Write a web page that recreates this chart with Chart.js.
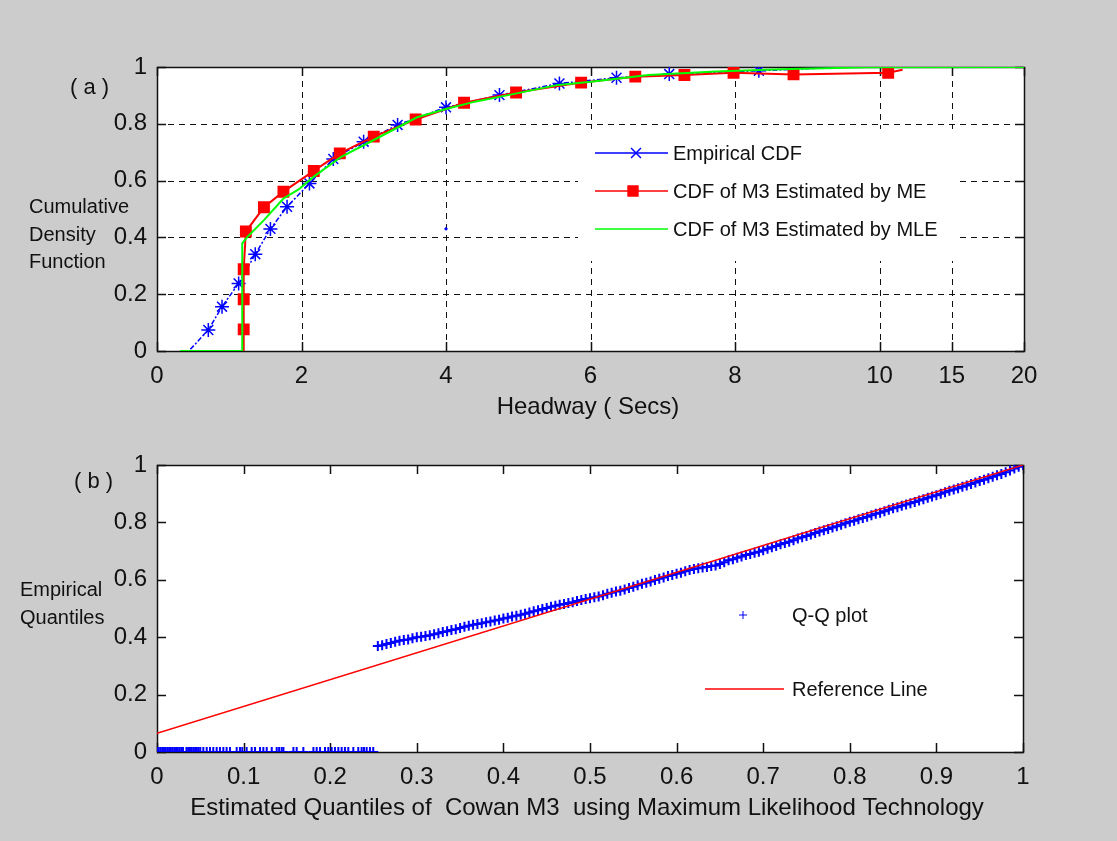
<!DOCTYPE html>
<html>
<head>
<meta charset="utf-8">
<script src="https://cdn.jsdelivr.net/npm/chart.js@4.4.0/dist/chart.umd.min.js"></script>
<style>
  html, body { margin: 0; padding: 0; background: #cccccc; }
  #wrap { position: relative; width: 1117px; height: 841px; overflow: hidden; }
  canvas { position: absolute; left: 0; }
  #cdf { top: 0; }
  #qq { top: 420px; }
</style>
</head>
<body>
<div id="wrap">
  <canvas id="cdf" width="1117" height="420"></canvas>
  <canvas id="qq" width="1117" height="421"></canvas>
</div>
<script>
// ---- (a) CDF data, headway in seconds ----
const headwayTicks = [0, 2, 4, 6, 8, 10, 15, 20];

const empX = [0.32, 0.44, 0.71, 0.90, 1.13, 1.36, 1.57, 1.80, 2.11, 2.44, 2.86, 3.33, 4.00, 4.74, 5.57, 6.36, 7.09, 8.33, 9.6];
const empY = [0, 0, 0.074, 0.156, 0.238, 0.341, 0.430, 0.508, 0.590, 0.676, 0.737, 0.796, 0.858, 0.901, 0.942, 0.962, 0.975, 0.987, 1.0];

const meX = [1.20, 1.20, 1.20, 1.20, 1.23, 1.48, 1.75, 2.17, 2.53, 3.00, 3.58, 4.25, 4.97, 5.87, 6.62, 7.30, 7.98, 8.81, 10.6, 11.6];
const meY = [0, 0.076, 0.182, 0.288, 0.421, 0.506, 0.561, 0.634, 0.696, 0.755, 0.815, 0.874, 0.910, 0.945, 0.966, 0.972, 0.980, 0.974, 0.980, 0.99];

const mleX = [0.32, 1.18, 1.18, 1.245, 1.48, 1.75, 1.96, 2.17, 2.55, 3.0, 3.6, 4.0, 4.4, 4.86, 5.55, 6.01, 6.80, 7.73, 8.65, 9.83, 20];
const mleY = [0, 0, 0.379, 0.400, 0.461, 0.537, 0.569, 0.614, 0.684, 0.743, 0.823, 0.852, 0.878, 0.901, 0.937, 0.948, 0.972, 0.984, 0.992, 0.999, 1.0];

const strayX = [4.0];
const strayY = [0.43];

// ---- (b) Q-Q data ----
const qqZeroX = [0, 0.002, 0.004, 0.006, 0.008, 0.010, 0.012, 0.014, 0.016, 0.018, 0.020,
  0.022, 0.024, 0.026, 0.028, 0.030, 0.034, 0.036, 0.038, 0.040, 0.042, 0.044, 0.046, 0.048,
  0.050, 0.0535, 0.0574, 0.0612, 0.065, 0.0689, 0.0727, 0.0766, 0.0804, 0.0843, 0.092,
  0.0958, 0.0985, 0.1035, 0.1093, 0.1132, 0.119, 0.1228, 0.1267, 0.1325, 0.1382, 0.141,
  0.144, 0.146, 0.1575, 0.1613, 0.169, 0.1806, 0.1844, 0.1883, 0.194, 0.1978, 0.2017,
  0.2055, 0.2094, 0.2132, 0.217, 0.2209, 0.2267, 0.2324, 0.2363, 0.239, 0.2421, 0.2459, 0.2497];

const qqX = [0.255, 0.26, 0.265, 0.27, 0.275, 0.28, 0.285, 0.29, 0.295, 0.30, 0.305, 0.31, 0.315,
  0.32, 0.325, 0.33, 0.335, 0.34, 0.345, 0.35, 0.355, 0.36, 0.365, 0.37, 0.375, 0.38, 0.385,
  0.39, 0.395, 0.40, 0.405, 0.41, 0.415, 0.42, 0.425, 0.43, 0.435, 0.44, 0.445, 0.45, 0.455,
  0.46, 0.465, 0.47, 0.475, 0.48, 0.485, 0.49, 0.495, 0.50, 0.505, 0.51, 0.515, 0.52, 0.525,
  0.53, 0.535, 0.54, 0.545, 0.55, 0.555, 0.56, 0.565, 0.57, 0.575, 0.58, 0.585, 0.59, 0.595,
  0.60, 0.605, 0.61, 0.615, 0.62, 0.625, 0.63, 0.635, 0.64, 0.645, 0.65, 0.655, 0.66, 0.665,
  0.67, 0.675, 0.68, 0.685, 0.69, 0.695, 0.70, 0.705, 0.71, 0.715, 0.72, 0.725, 0.73, 0.735,
  0.74, 0.745, 0.75, 0.755, 0.76, 0.765, 0.77, 0.775, 0.78, 0.785, 0.79, 0.795, 0.80, 0.805,
  0.81, 0.815, 0.82, 0.825, 0.83, 0.835, 0.84, 0.845, 0.85, 0.855, 0.86, 0.865, 0.87, 0.875,
  0.88, 0.885, 0.89, 0.895, 0.90, 0.905, 0.91, 0.915, 0.92, 0.925, 0.93, 0.935, 0.94, 0.945,
  0.95, 0.955, 0.96, 0.965, 0.97, 0.975, 0.98, 0.985, 0.99, 0.995, 1.00];
const qqY = [0.369, 0.372, 0.376, 0.380, 0.384, 0.388, 0.390, 0.392, 0.396, 0.400, 0.402, 0.404, 0.407,
  0.410, 0.414, 0.418, 0.421, 0.425, 0.428, 0.432, 0.436, 0.440, 0.443, 0.446, 0.449, 0.452, 0.455,
  0.458, 0.461, 0.465, 0.468, 0.472, 0.475, 0.478, 0.482, 0.486, 0.490, 0.494, 0.498, 0.502, 0.506,
  0.510, 0.513, 0.516, 0.519, 0.522, 0.526, 0.530, 0.533, 0.536, 0.539, 0.542, 0.546, 0.551, 0.555,
  0.559, 0.562, 0.566, 0.571, 0.576, 0.581, 0.586, 0.590, 0.594, 0.599, 0.604, 0.608, 0.613, 0.617,
  0.621, 0.625, 0.630, 0.634, 0.638, 0.640, 0.643, 0.645, 0.648, 0.650, 0.655, 0.661, 0.668, 0.672,
  0.677, 0.681, 0.686, 0.690, 0.694, 0.698, 0.703, 0.708, 0.713, 0.718, 0.724, 0.728, 0.733, 0.738,
  0.744, 0.748, 0.753, 0.758, 0.763, 0.768, 0.773, 0.777, 0.782, 0.787, 0.792, 0.797, 0.802, 0.806,
  0.811, 0.815, 0.820, 0.825, 0.830, 0.834, 0.839, 0.844, 0.849, 0.853, 0.858, 0.862, 0.867, 0.871,
  0.876, 0.881, 0.886, 0.890, 0.895, 0.900, 0.905, 0.910, 0.915, 0.919, 0.924, 0.929, 0.934, 0.939,
  0.944, 0.949, 0.954, 0.959, 0.964, 0.969, 0.975, 0.981, 0.988, 0.994, 1.000];

const refX = [0, 1];
const refY = [0.065, 1.0];

// axis 0..10 linear, then 10->15 and 15->20 each take one unit
function toAxis(v) {
  return v <= 10 ? v : 10 + (v - 10) / 5;
}
function pts(xs, ys, fx) {
  return xs.map((x, i) => ({ x: fx ? fx(x) : x, y: ys[i] }));
}
function fmt(v) {
  return String(Number(v.toFixed(1)));
}

const FONT = '"Liberation Sans", Arial, sans-serif';
const BLUE = '#0000ff', RED = '#ff0000', GREEN = '#00ff00';

const frame = {
  id: 'frame',
  beforeDatasetsDraw(chart, args, opt) {
    const { ctx, chartArea: a, scales: { x, y } } = chart;
    ctx.save();
    ctx.fillStyle = '#fff';
    ctx.fillRect(a.left, a.top, a.right - a.left, a.bottom - a.top);
    ctx.strokeStyle = '#111';
    if (opt.grid) {
      ctx.lineWidth = 1;
      ctx.setLineDash([6, 5]);
      x.ticks.forEach(t => {
        const px = Math.round(x.getPixelForValue(t.value)) + 0.5;
        if (px > a.left + 2 && px < a.right - 2) {
          ctx.beginPath(); ctx.moveTo(px, a.bottom); ctx.lineTo(px, a.top); ctx.stroke();
        }
      });
      y.ticks.forEach(t => {
        const py = Math.round(y.getPixelForValue(t.value)) + 0.5;
        if (py > a.top + 2 && py < a.bottom - 2) {
          ctx.beginPath(); ctx.moveTo(a.left, py); ctx.lineTo(a.right, py); ctx.stroke();
        }
      });
      ctx.setLineDash([]);
    }
    const tl = 9;
    ctx.lineWidth = 1.5;
    x.ticks.forEach(t => {
      const px = Math.round(x.getPixelForValue(t.value)) + 0.5;
      ctx.beginPath();
      ctx.moveTo(px, a.bottom); ctx.lineTo(px, a.bottom - tl);
      ctx.moveTo(px, a.top); ctx.lineTo(px, a.top + tl);
      ctx.stroke();
    });
    y.ticks.forEach(t => {
      const py = Math.round(y.getPixelForValue(t.value)) + 0.5;
      ctx.beginPath();
      ctx.moveTo(a.left, py); ctx.lineTo(a.left + tl, py);
      ctx.moveTo(a.right, py); ctx.lineTo(a.right - tl, py);
      ctx.stroke();
    });
    ctx.strokeRect(Math.round(a.left) + 0.5, Math.round(a.top) + 0.5,
      Math.round(a.right - a.left), Math.round(a.bottom - a.top));
    ctx.restore();
  },
  afterDatasetsDraw(chart, args, opt) {
    const lg = opt.legend;
    if (!lg) return;
    const ctx = chart.ctx;
    ctx.save();
    ctx.fillStyle = '#fff';
    ctx.fillRect(lg.box[0], lg.box[1], lg.box[2], lg.box[3]);
    lg.items.forEach(it => {
      ctx.strokeStyle = it.color;
      ctx.fillStyle = it.color;
      if (it.line) {
        ctx.lineWidth = 1.5;
        ctx.beginPath(); ctx.moveTo(it.x0, it.y); ctx.lineTo(it.x1, it.y); ctx.stroke();
      }
      if (it.marker) {
        Chart.helpers.drawPoint(ctx, { pointStyle: it.marker, radius: it.r, rotation: 0, borderWidth: it.bw || 1.5 }, it.mx, it.y);
      }
      ctx.fillStyle = '#111';
      ctx.font = '20px ' + FONT;
      ctx.textAlign = 'left';
      ctx.textBaseline = 'middle';
      ctx.fillText(it.label, it.tx, it.y + 1);
    });
    ctx.restore();
  },
  afterDraw(chart, args, opt) {
    const ctx = chart.ctx;
    ctx.save();
    ctx.fillStyle = '#111';
    ctx.textBaseline = 'middle';
    (opt.texts || []).forEach(t => {
      ctx.font = t.size + 'px ' + FONT;
      ctx.textAlign = t.align;
      ctx.fillText(t.text, t.x, t.y);
    });
    ctx.restore();
  }
};

function axisY(width) {
  return {
    min: 0, max: 1,
    afterFit(s) { s.width = width; },
    grid: { display: false, drawTicks: false },
    border: { display: false },
    ticks: { stepSize: 0.2, padding: 10, color: '#111', font: { family: FONT, size: 24 }, callback: fmt }
  };
}

const common = {
  responsive: false,
  animation: false,
  devicePixelRatio: 1,
  events: [],
  plugins: { legend: { display: false }, tooltip: { enabled: false } }
};

// ---- (a) ----
new Chart(document.getElementById('cdf'), {
  type: 'scatter',
  data: {
    datasets: [
      {
        label: 'CDF of M3 Estimated by MLE', data: pts(mleX, mleY, toAxis), order: 0,
        showLine: true, borderColor: GREEN, borderWidth: 2, pointRadius: 0
      },
      {
        label: 'CDF of M3 Estimated by ME', data: pts(meX, meY, toAxis), order: 1,
        showLine: true, borderColor: RED, backgroundColor: RED, borderWidth: 2,
        pointStyle: 'rect', pointRadius: c => (c.dataIndex === 0 || c.dataIndex === meX.length - 1) ? 0 : 7
      },
      {
        label: 'Empirical CDF', data: pts(empX, empY, toAxis), order: 2,
        showLine: true, borderColor: BLUE, borderWidth: 1.5, borderDash: [5, 2, 2, 2],
        pointStyle: 'star', pointBorderWidth: 1.5,
        pointRadius: c => (c.dataIndex < 2 || c.dataIndex === empX.length - 1) ? 0 : 7
      },
      {
        label: 'stray', data: pts(strayX, strayY, toAxis), order: 3,
        pointStyle: 'circle', pointRadius: 1.2, backgroundColor: BLUE, borderColor: BLUE
      }
    ]
  },
  options: {
    ...common,
    layout: { padding: { left: 0, top: 67, right: 93, bottom: 9 } },
    scales: {
      x: {
        type: 'linear', min: 0, max: toAxis(20),
        afterBuildTicks(s) { s.ticks = headwayTicks.map(v => ({ value: toAxis(v) })); },
        afterFit(s) { s.height = 60; },
        grid: { display: false, drawTicks: false },
        border: { display: false },
        ticks: { padding: 11, color: '#111', font: { family: FONT, size: 24 },
          callback: (v, i) => String(headwayTicks[i]) }
      },
      y: axisY(157)
    },
    plugins: {
      ...common.plugins,
      frame: {
        grid: true,
        legend: {
          box: [578, 129, 382, 132],
          items: [
            { label: 'Empirical CDF', color: BLUE, line: true, x0: 595, x1: 668, marker: 'crossRot', r: 7, mx: 636, y: 153, tx: 673 },
            { label: 'CDF of M3 Estimated by ME', color: RED, line: true, x0: 595, x1: 668, marker: 'rect', r: 7, mx: 633, y: 191, tx: 673 },
            { label: 'CDF of M3 Estimated by MLE', color: GREEN, line: true, x0: 595, x1: 668, marker: null, y: 229, tx: 673 }
          ]
        },
        texts: [
          { text: '( a )', x: 70, y: 88, size: 22, align: 'left' },
          { text: 'Headway ( Secs)', x: 588, y: 407, size: 24, align: 'center' },
          { text: 'Cumulative', x: 29, y: 207, size: 20, align: 'left' },
          { text: 'Density', x: 29, y: 235, size: 20, align: 'left' },
          { text: 'Function', x: 29, y: 262, size: 20, align: 'left' }
        ]
      }
    }
  },
  plugins: [frame]
});

// ---- (b) ----
new Chart(document.getElementById('qq'), {
  type: 'scatter',
  data: {
    datasets: [
      {
        label: 'Reference Line', data: pts(refX, refY), order: 0,
        showLine: true, borderColor: RED, borderWidth: 1.5, pointRadius: 0
      },
      {
        label: 'Q-Q plot', data: pts(qqX, qqY), order: 1,
        pointStyle: 'cross', pointRadius: 5, pointBorderWidth: 2, borderColor: BLUE
      },
      {
        label: 'Q-Q plot zero', data: qqZeroX.map(x => ({ x: x, y: 0 })), order: 2,
        pointStyle: 'cross', pointRadius: 5, pointBorderWidth: 2, borderColor: BLUE
      }
    ]
  },
  options: {
    ...common,
    layout: { padding: { left: 0, top: 45, right: 94, bottom: 29 } },
    scales: {
      x: {
        type: 'linear', min: 0, max: 1,
        afterFit(s) { s.height = 60; },
        grid: { display: false, drawTicks: false },
        border: { display: false },
        ticks: { stepSize: 0.1, padding: 11, color: '#111', font: { family: FONT, size: 24 }, callback: fmt }
      },
      y: axisY(157)
    },
    plugins: {
      ...common.plugins,
      frame: {
        grid: false,
        legend: {
          box: [700, 172, 275, 125],
          items: [
            { label: 'Q-Q plot', color: BLUE, line: false, marker: 'cross', r: 4, bw: 2, mx: 743, y: 195, tx: 792 },
            { label: 'Reference Line', color: RED, line: true, x0: 705, x1: 784, marker: null, y: 269, tx: 792 }
          ]
        },
        texts: [
          { text: '( b )', x: 74, y: 62, size: 22, align: 'left' },
          { text: 'Estimated Quantiles of  Cowan M3  using Maximum Likelihood Technology', x: 587, y: 388, size: 24, align: 'center' },
          { text: 'Empirical', x: 20, y: 170, size: 20, align: 'left' },
          { text: 'Quantiles', x: 20, y: 198, size: 20, align: 'left' }
        ]
      }
    }
  },
  plugins: [frame]
});
</script>
</body>
</html>
